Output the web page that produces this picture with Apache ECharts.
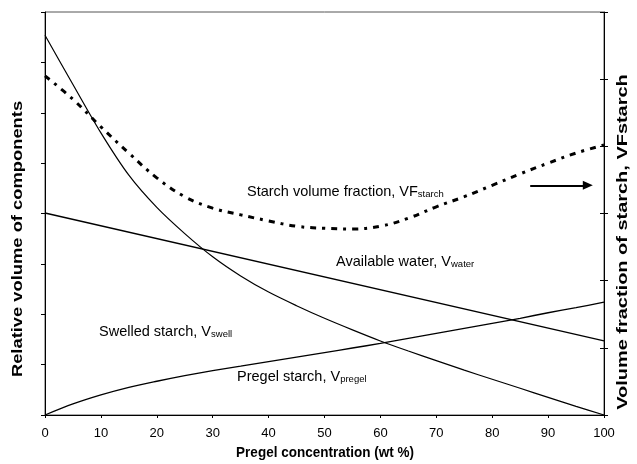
<!DOCTYPE html>
<html><head><meta charset="utf-8">
<script src="https://cdn.jsdelivr.net/npm/echarts@6/dist/echarts.min.js"></script>
<style>html,body{margin:0;padding:0;background:#fff}#c{width:637px;height:464px}</style>
</head><body><div id="c"></div>
<script>
const xTicks = [0,10,20,30,40,50,60,70,80,90,100];
const conc = [0,5,10,15,20,25,30,35,40,45,50,55,60,65,70,75,80,85,90,95,100];
const vSwell = [7.54,6.56,5.60,4.76,4.12,3.60,3.14,2.76,2.44,2.17,1.92,1.69,1.47,1.27,1.08,0.89,0.71,0.53,0.35,0.17,0];
const vPregel = [0,0.22,0.40,0.55,0.67,0.78,0.88,0.97,1.06,1.15,1.24,1.33,1.42,1.52,1.62,1.72,1.82,1.92,2.03,2.13,2.24];
const waterConc = [0,100];
const vWater = [4.01,1.47];
const vfStarch = [0.505,0.47,0.429,0.39,0.353,0.325,0.308,0.298,0.289,0.281,0.278,0.277,0.281,0.293,0.31,0.325,0.342,0.359,0.375,0.39,0.402];
const arrowConc = [86.8,97.1];
const arrowVF = 0.342;

const FONT = '"Liberation Sans", Arial, sans-serif';
const pairs = (xs, ys) => xs.map((x,i)=>[x, ys[i]]);

const chart = echarts.init(document.getElementById('c'), null, {renderer:'canvas'});
const lbl = (main, sub) => ({
  text: '{m|' + main + '}{s|' + sub + '}',
  rich: {
    m: {fontSize: 14.5, fontFamily: FONT, fill: '#000', color:'#000', verticalAlign:'bottom', lineHeight: 18},
    s: {fontSize: 9.5, fontFamily: FONT, fill: '#000', color:'#000', verticalAlign:'bottom', lineHeight: 14}
  }
});
const titleStyle = (t, fs) => ({
  text: t, fontFamily: FONT, fontSize: fs, fontWeight: 'bold', fill: '#000',
  textAlign: 'center', textVerticalAlign: 'middle'
});
chart.setOption({
  animation: false,
  backgroundColor: '#fff',
  grid: {left: 45, right: 33, top: 12, bottom: 49, show: true, borderColor: '#555', borderWidth: 1},
  xAxis: {
    type: 'value', min: 0, max: 100, interval: 10,
    axisLine: {lineStyle: {color: '#000', width: 1}},
    axisTick: {length: 3, lineStyle: {color: '#000'}},
    axisLabel: {fontFamily: FONT, fontSize: 13, color: '#000', margin: 12},
    splitLine: {show: false}
  },
  yAxis: [
    {
      type: 'value', min: 0, max: 8, interval: 1, position: 'left',
      axisLine: {show: true, lineStyle: {color: '#000', width: 1}},
      axisTick: {show: true, length: 4, lineStyle: {color: '#000'}},
      axisLabel: {show: false}, splitLine: {show: false}
    },
    {
      type: 'value', min: 0, max: 0.6, interval: 0.1, position: 'right',
      axisLine: {show: true, lineStyle: {color: '#000', width: 1}},
      axisTick: {show: true, length: 4, lineStyle: {color: '#000'}},
      axisLabel: {show: false}, splitLine: {show: false}
    },
    {
      type: 'value', min: 0, max: 0.6, interval: 0.1, position: 'right',
      axisLine: {show: false},
      axisTick: {show: true, inside: true, length: 4, lineStyle: {color: '#000'}},
      axisLabel: {show: false}, splitLine: {show: false}
    }
  ],
  series: [
    {type: 'line', name: 'swell', yAxisIndex: 0, data: pairs(conc, vSwell), smooth: 0.3, showSymbol: false,
     lineStyle: {color: '#000', width: 1.2}},
    {type: 'line', name: 'water', yAxisIndex: 0, data: pairs(waterConc, vWater), showSymbol: false,
     lineStyle: {color: '#000', width: 1.3}},
    {type: 'line', name: 'pregel', yAxisIndex: 0, data: pairs(conc, vPregel), smooth: 0.3, showSymbol: false,
     lineStyle: {color: '#000', width: 1.3}},
    {type: 'line', name: 'vf', yAxisIndex: 1, data: pairs(conc, vfStarch), smooth: 0.4, showSymbol: false,
     lineStyle: {color: '#000', width: 3, type: [6, 6, 3, 6]},
     markLine: {
       silent: true, symbol: ['none', 'triangle'], symbolSize: [9, 10],
       label: {show: false},
       lineStyle: {color: '#000', width: 2, type: 'solid'},
       data: [[{coord: [arrowConc[0], arrowVF]}, {coord: [arrowConc[1], arrowVF]}]]
     }}
  ],
  graphic: [
    {type: 'text', left: 247, top: 184, style: lbl('Starch volume fraction, VF', 'starch')},
    {type: 'text', left: 336, top: 254, style: lbl('Available water, V', 'water')},
    {type: 'text', left: 99, top: 324, style: lbl('Swelled starch, V', 'swell')},
    {type: 'text', left: 237, top: 369, style: lbl('Pregel starch, V', 'pregel')},
    {type: 'text', x: 325, y: 453, scaleY: 1.15, style: titleStyle('Pregel concentration (wt %)', 13.5)},
    {type: 'text', x: 18, y: 239, rotation: Math.PI / 2, scaleX: 1.31, style: titleStyle('Relative volume of components', 14)},
    {type: 'text', x: 623, y: 242, rotation: Math.PI / 2, scaleX: 1.33, style: titleStyle('Volume fraction of starch, VFstarch', 15)}
  ]
});
</script></body></html>
